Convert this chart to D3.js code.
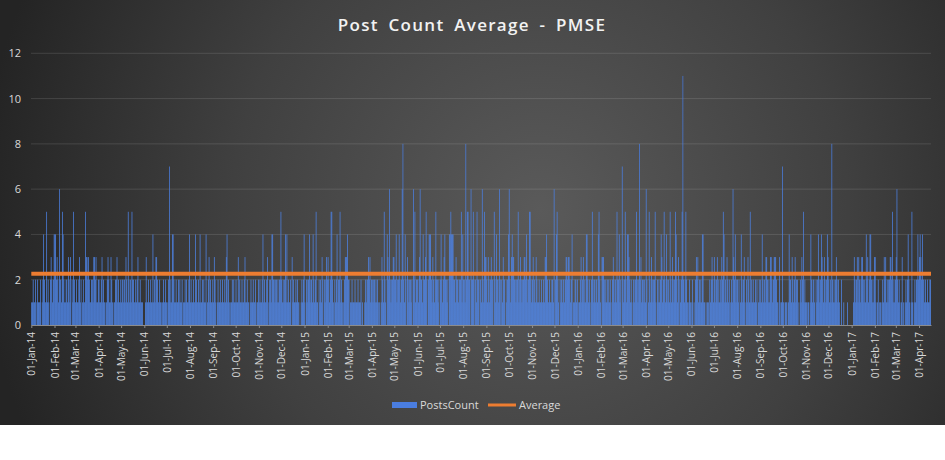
<!DOCTYPE html>
<html><head><meta charset="utf-8">
<script src="https://cdn.jsdelivr.net/npm/d3@7"></script>
<style>body{margin:0;background:#fff;overflow:hidden}</style>
</head><body><svg id="c" width="945" height="460"></svg>
<script>
// Daily post counts, one value per day starting 01-Jan-2014
const posts2014 = [
1,1,2,1,1,2,0,1,2,1, 1,1,2,0,1,2,4,2,1,1, 5,1,2,1,0,2,3,2,1,2,4,
4,4,2,3,2,1,6,2,2,1, 5,4,2,1,1,2,2,1,3,2, 1,3,0,2,1,5,2,1,
1,2,1,1,2,3,1,2,0,1, 2,1,1,5,3,3,2,3,2,1, 1,2,2,1,3,3,2,3,1,1,2,
2,1,1,2,3,1,2,1,1,0, 1,2,3,2,1,1,3,2,1,0, 1,1,2,2,3,1,2,1,1,2,
1,2,2,1,2,1,3,2,1,5, 2,1,2,1,5,2,2,1,1,2, 1,2,3,1,1,2,1,1,1,0,0,
0,1,3,1,1,2,1,1,2,1, 1,4,1,2,1,3,3,2,1,1, 2,1,1,0,1,2,1,1,2,1,
0,1,2,7,1,2,1,4,4,2, 1,1,2,1,1,2,1,2,1,1, 2,0,1,1,2,1,2,1,1,2,4,
1,2,1,1,2,1,1,4,2,1, 1,2,1,4,1,1,2,1,2,1, 1,4,0,1,2,3,1,2,1,1,2,
1,3,2,1,0,1,2,1,1,2, 1,1,2,1,1,2,1,3,4,1, 2,1,0,1,1,2,1,2,1,1,
2,1,1,3,1,2,1,1,2,1, 1,2,3,1,1,2,1,1,0,1, 2,1,1,2,1,1,2,0,1,1,2,
1,2,1,1,2,4,1,2,1,1, 2,3,0,1,2,2,1,4,4,2, 2,1,2,2,1,2,1,2,2,5,
2,1,2,1,2,4,1,4,1,2, 1,1,2,0,3,1,2,1,1,2, 1,2,1,1,0,0,1,2,1,2,4
];
const posts2015 = [
1,0,2,1,2,2,4,1,2,2, 1,4,2,1,2,5,1,1,0,2, 1,2,1,3,2,0,2,1,2,3,2,
3,2,1,2,5,5,2,1,0,2, 1,2,4,1,2,2,5,1,2,1, 0,1,2,3,3,3,4,2,
2,0,1,1,2,1,1,1,2,1, 1,1,2,1,1,1,2,0,1,0, 0,1,2,1,2,2,3,2,3,1,2,
2,1,2,2,1,2,1,2,1,0, 1,0,1,3,2,1,5,2,1,0, 4,3,2,6,2,1,2,2,3,3,
2,2,4,1,2,2,4,2,1,2, 6,8,2,1,4,2,0,3,2,1, 2,2,1,2,0,6,2,5,1,2,2,
2,1,3,6,2,2,1,4,2,2, 3,5,2,0,2,4,4,4,2,1, 3,2,1,2,5,2,2,1,2,0,
2,4,2,1,2,3,4,2,2,1, 2,0,4,4,5,4,4,4,2,2, 1,3,2,2,1,2,2,2,5,1,4,
2,2,1,8,2,5,5,2,2,0, 6,2,2,5,2,0,2,1,5,2, 2,0,2,2,1,6,2,1,5,3,3,
2,1,3,2,1,2,3,2,2,0, 5,2,1,4,2,2,1,6,2,0, 2,1,3,2,2,0,1,2,2,4,
6,2,1,3,4,3,3,2,2,1, 2,2,5,1,2,3,2,1,2,2, 3,3,2,4,1,2,2,5,5,2,1,
2,3,1,2,1,3,2,1,1,2, 1,1,2,1,1,2,1,3,3,4, 2,1,1,2,1,1,2,2,1,6,
0,2,4,5,2,1,0,2,1,2, 1,2,2,1,2,3,3,2,3,3, 2,1,2,4,0,1,1,2,2,1,2
];
const posts2016 = [
0,1,1,2,3,1,2,3,1,2, 1,4,4,2,1,2,1,0,2,5, 2,1,2,1,2,2,1,4,5,2,1,
0,3,3,3,2,1,2,1,2,1, 2,1,2,1,0,2,3,2,1,2, 1,5,2,2,4,1,2,0,7,
2,1,2,5,2,1,4,4,3,2, 1,2,1,0,2,1,2,2,5,2, 1,2,8,2,3,1,2,2,1,2,1,
6,2,0,1,5,2,1,3,2,1, 2,2,5,1,0,2,1,2,1,2, 4,3,1,2,5,2,1,4,2,1,
2,1,5,2,1,3,2,1,2,5, 4,2,1,3,0,2,1,2,5,11, 2,1,2,5,2,1,0,1,2,1,0,
1,2,0,1,0,2,3,2,3,1, 2,1,2,1,4,4,1,1,0,1, 0,1,1,0,2,1,2,3,2,1,
3,2,1,2,3,1,2,1,2,1, 3,2,5,4,1,2,1,3,2,1, 2,0,1,2,1,6,3,2,4,1,2,
2,1,2,0,1,4,2,1,2,3, 1,0,2,1,3,2,1,5,1,2, 1,2,1,1,2,1,2,0,1,2,1,
2,1,4,2,1,2,1,3,3,2, 1,2,1,3,3,2,1,2,3,3, 3,2,1,1,0,3,0,1,1,7,
1,1,0,1,1,1,0,1,4,2, 2,1,3,2,1,2,3,1,2,2, 0,1,0,2,1,3,2,5,1,2,1,
1,0,1,1,0,1,4,2,1,2, 2,1,0,2,1,2,4,2,1,2, 4,3,2,1,3,2,1,2,4,3,
2,1,2,1,8,2,1,2,1,2, 3,2,1,2,1,0,0,2,0,0, 1,0,0,0,0,1,0,0,0,0,0
];
const posts2017 = [
0,0,1,3,2,1,2,3,1,3, 2,1,2,3,3,2,1,2,1,4, 2,3,1,2,4,4,2,1,2,1,3,
3,1,0,1,2,0,1,1,0,1, 2,1,3,2,3,1,2,1,2,2, 3,3,2,5,1,2,1,2,
3,6,2,1,2,1,0,1,3,0, 1,0,1,2,1,2,4,2,1,0, 1,5,1,0,1,2,1,2,2,4,2,
3,4,3,2,4,2,2,1,2,1, 1,2,1,1,2,2
];
const averageValue = 2.26;
const yTicks = [0, 2, 4, 6, 8, 10, 12];
const seriesNames = ["PostsCount", "Average"];
const chartTitle = "Post Count Average - PMSE";
const firstDay = new Date(2014, 0, 1);

const counts = posts2014.concat(posts2015, posts2016, posts2017);
const data = counts.map((v, i) => ({ date: d3.timeDay.offset(firstDay, i), v }));
const lastDay = d3.timeDay.offset(firstDay, counts.length);

const svg = d3.select("#c");
const defs = svg.append("defs");
const bg = defs.append("radialGradient").attr("id", "bg")
  .attr("gradientUnits", "userSpaceOnUse")
  .attr("cx", 540).attr("cy", 210).attr("r", 560);
bg.append("stop").attr("offset", "0").attr("stop-color", "#5a5a5a");
bg.append("stop").attr("offset", "0.55").attr("stop-color", "#404040");
bg.append("stop").attr("offset", "1").attr("stop-color", "#242424");

const barGrad = defs.append("linearGradient").attr("id", "barg")
  .attr("gradientUnits", "userSpaceOnUse").attr("x1", 0).attr("x2", 0).attr("y1", 325).attr("y2", 53);
barGrad.append("stop").attr("offset", "0").attr("stop-color", "#5088ec");
barGrad.append("stop").attr("offset", "1").attr("stop-color", "#4474d4");

svg.append("rect").attr("x", 0).attr("y", 0).attr("width", 945).attr("height", 460).attr("fill", "#fff");
svg.append("rect").attr("x", 0).attr("y", 0).attr("width", 945).attr("height", 425).attr("fill", "url(#bg)");

const x = d3.scaleTime().domain([firstDay, lastDay]).range([31.3, 931]);
const y = d3.scaleLinear().domain([0, 12]).range([325, 53.3]);

// gridlines
svg.append("g").selectAll("line").data(yTicks.filter(t => t > 0)).join("line")
  .attr("x1", 31).attr("x2", 931)
  .attr("y1", d => y(d)).attr("y2", d => y(d))
  .attr("stroke", "#ffffff").attr("stroke-opacity", 0.12).attr("stroke-width", 1);

// y labels
const yAxis = d3.axisLeft(y).tickValues(yTicks).tickSize(0).tickPadding(0);
const gy = svg.append("g").attr("transform", "translate(21,0)").call(yAxis);
gy.select(".domain").remove();
gy.selectAll("text").attr("fill", "#d9d9d9").style("font-family", "'Open Sans', sans-serif").style("font-size", "11px");

// bars
svg.append("g").selectAll("rect").data(data).join("rect")
  .attr("x", d => x(d.date))
  .attr("width", d => x(d3.timeDay.offset(d.date, 1)) - x(d.date))
  .attr("y", d => y(d.v))
  .attr("height", d => y(0) - y(d.v))
  .attr("fill", "url(#barg)");

// x axis
const xAxis = d3.axisBottom(x).ticks(d3.timeMonth.every(1)).tickFormat(d3.timeFormat("%d-%b-%y")).tickSize(3).tickSizeOuter(0);
const gx = svg.append("g").attr("transform", "translate(0,325)").call(xAxis);
gx.select(".domain").attr("stroke", "#8c8c8c");
gx.selectAll(".tick line").attr("stroke", "#8c8c8c");
gx.selectAll("text")
  .attr("transform", "rotate(-90)")
  .attr("x", -7).attr("y", 0).attr("dy", "0.35em")
  .style("text-anchor", "end")
  .attr("fill", "#d9d9d9")
  .style("font-family", "'Open Sans', sans-serif").style("font-size", "10px");

// average line
svg.append("line")
  .attr("x1", x(firstDay)).attr("x2", x(lastDay))
  .attr("y1", y(averageValue)).attr("y2", y(averageValue))
  .attr("stroke", "#ED7D31").attr("stroke-width", 4);

// title
svg.append("text").attr("x", 472).attr("y", 31).attr("text-anchor", "middle")
  .attr("fill", "#f2f2f2").style("font-family", "'Open Sans', sans-serif")
  .style("font-size", "17px").style("font-weight", "600").style("letter-spacing", "1.3px")
  .style("word-spacing", "4px")
  .text(chartTitle);

// legend
const lg = svg.append("g");
lg.append("rect").attr("x", 392).attr("y", 402).attr("width", 25).attr("height", 6).attr("fill", "#4a7ddf");
lg.append("text").attr("x", 420).attr("y", 409).text(seriesNames[0])
  .attr("fill", "#d9d9d9").style("font-family", "'Open Sans', sans-serif").style("font-size", "11px");
lg.append("line").attr("x1", 488).attr("x2", 516).attr("y1", 405).attr("y2", 405)
  .attr("stroke", "#ED7D31").attr("stroke-width", 3);
lg.append("text").attr("x", 519).attr("y", 409).text(seriesNames[1])
  .attr("fill", "#d9d9d9").style("font-family", "'Open Sans', sans-serif").style("font-size", "11px");
</script></body></html>
